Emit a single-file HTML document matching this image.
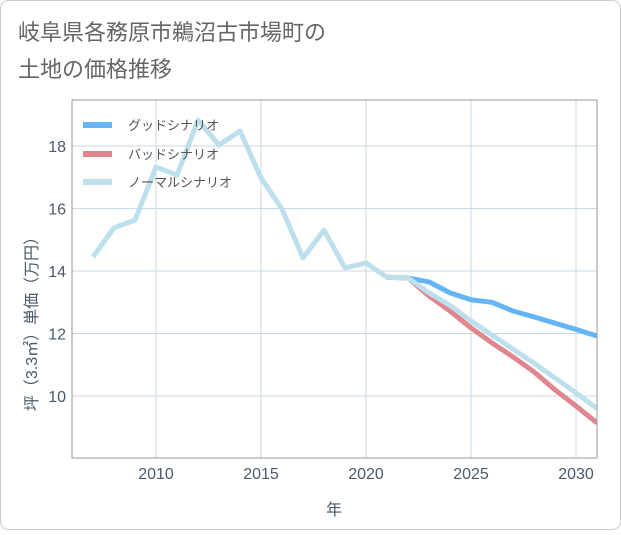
<!DOCTYPE html>
<html><head><meta charset="utf-8"><style>
body{margin:0;background:#fff;}
#wrap{width:621px;height:530px;position:relative;font-family:"Liberation Sans","Noto Sans CJK JP",sans-serif;}
</style></head><body>
<div id="wrap">
<svg id="c" width="621" height="530" xmlns="http://www.w3.org/2000/svg">
<rect x="0.5" y="0.5" width="620" height="529" rx="8" fill="#fff" stroke="#ccc"/>
<text x="18" y="40" font-size="22" fill="#666">岐阜県各務原市鵜沼古市場町の</text>
<text x="18" y="77" font-size="22" fill="#666">土地の価格推移</text>
<g id="grid"></g><g id="series"></g><g id="axes"></g>
<g>
<line x1="83" y1="125" x2="112" y2="125" stroke="#64b5f6" stroke-width="6"/>
<text x="128" y="130" font-size="13" fill="#555">グッドシナリオ</text>
<line x1="83" y1="154" x2="112" y2="154" stroke="#e0868e" stroke-width="6"/>
<text x="128" y="159" font-size="13" fill="#555">バッドシナリオ</text>
<line x1="83" y1="182" x2="112" y2="182" stroke="#bde0ec" stroke-width="6"/>
<text x="128" y="187" font-size="13" fill="#555">ノーマルシナリオ</text>
</g>
</svg>
</div>
<script>
const normalYears=[2007,2008,2009,2010,2011,2012,2013,2014,2015,2016,2017,2018,2019,2020,2021,2022,2023,2024,2025,2026,2027,2028,2029,2030,2031];
const normalValues=[14.45,15.38,15.63,17.33,17.07,18.83,18.03,18.48,16.98,15.98,14.42,15.31,14.1,14.26,13.8,13.78,13.3,12.9,12.4,11.95,11.5,11.05,10.58,10.1,9.6];
const forecastYears=[2021,2022,2023,2024,2025,2026,2027,2028,2029,2030,2031];
const goodValues=[13.8,13.78,13.65,13.3,13.08,13.0,12.72,12.53,12.33,12.13,11.92];
const badValues=[13.8,13.78,13.2,12.72,12.18,11.7,11.25,10.77,10.2,9.68,9.14];
const xTicks=[2010,2015,2020,2025,2030];
const yTicks=[10,12,14,16,18];
const NS='http://www.w3.org/2000/svg';
const L=72,R=597,T=100,B=458;
function xs(y){return 156+(y-2010)*21;}
function ys(v){return 396-(v-10)*31.25;}
function mk(t,a,p){const e=document.createElementNS(NS,t);for(const k in a)e.setAttribute(k,a[k]);p.appendChild(e);return e;}
const grid=document.getElementById('grid'),axes=document.getElementById('axes'),ser=document.getElementById('series');
xTicks.forEach(t=>{const x=xs(t);
const g=mk('line',{x1:x,x2:x,y1:T,y2:B,stroke:'#c9d9e3','stroke-width':1},grid);


const tx=mk('text',{x:x,y:479,'text-anchor':'middle','font-size':16,fill:'#4a5a6a'},axes);tx.textContent=t;

});
yTicks.forEach(t=>{const y=ys(t);
const g=mk('line',{x1:L,x2:R,y1:y,y2:y,stroke:'#c9d9e3','stroke-width':1},grid);


const tx=mk('text',{x:66,y:y+6,'text-anchor':'end','font-size':16,fill:'#4a5a6a'},axes);tx.textContent=t;

});
const fr=mk('rect',{x:L,y:T,width:R-L,height:B-T,fill:'none',stroke:'#999','stroke-width':1},axes);


const xt=mk('text',{x:334,y:515,'text-anchor':'middle','font-size':16,fill:'#4a5a6a'},axes);xt.textContent='年';


const yt=mk('text',{x:0,y:0,'text-anchor':'middle','font-size':16,fill:'#4a5a6a',transform:'translate(37,320) rotate(-90)'},axes);yt.textContent='坪（3.3㎡）単価（万円）';


function line(xsArr,vals,color,name){
const d=vals.map((v,i)=>(i?'L':'M')+xs(xsArr[i]).toFixed(1)+','+ys(v).toFixed(1)).join(' ');
const p=mk('path',{d:d,fill:'none',stroke:color,'stroke-width':5,'stroke-linejoin':'round'},ser);

}
const cp=mk('clipPath',{id:'cl'},document.getElementById('c'));mk('rect',{x:L,y:T,width:R-L,height:B-T},cp);
ser.setAttribute('clip-path','url(#cl)');
line(forecastYears,goodValues,'#64b5f6','good-scenario-line');
line(forecastYears,badValues,'#e0868e','bad-scenario-line');
line(normalYears,normalValues,'#bde0ec','normal-scenario-line');
</script>
</body></html>
